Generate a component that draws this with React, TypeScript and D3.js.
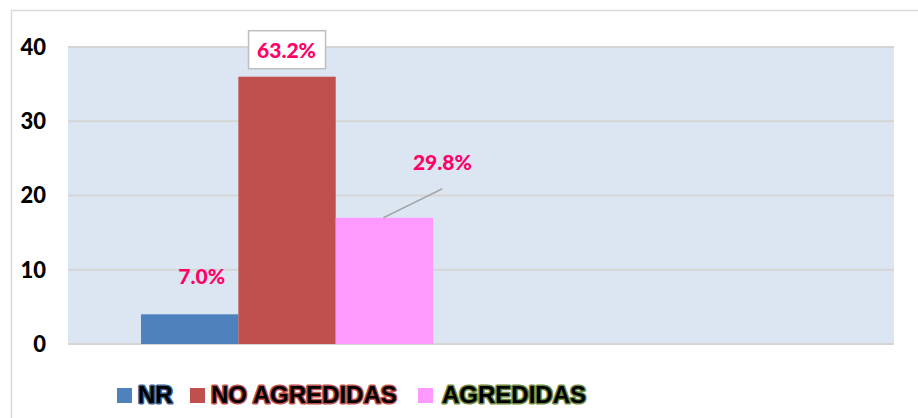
import React from "react";
import * as d3 from "d3";

const categories = ["Total"];
const seriesNames = ["NR", "NO AGREDIDAS", "AGREDIDAS"];
const seriesValues = [4, 36, 17];
const percentLabels = ["7.0%", "63.2%", "29.8%"];
const yTicks = [0, 10, 20, 30, 40];
const seriesColors = ["#4F81BD", "#C0504D", "#FF99FF"];
const legendStroke = ["#3B5F8F", "#C0504D", "#6E8B3D"];

const W = 918;
const H = 418;
const plot = { left: 68, right: 894, top: 47, bottom: 344 };

export default function App() {
  const y = d3.scaleLinear().domain([0, 40]).range([plot.bottom, plot.top]);
  const x0 = d3
    .scaleBand<string>()
    .domain(categories)
    .range([plot.left, plot.right])
    .paddingInner(0)
    .paddingOuter(0.914)
    .align(0.1367);
  const x1 = d3
    .scaleBand<string>()
    .domain(seriesNames)
    .range([0, x0.bandwidth()])
    .padding(0);

  const cat = categories[0];
  const bx = (i: number) => (x0(cat) ?? 0) + (x1(seriesNames[i]) ?? 0);
  const bw = x1.bandwidth();

  const labelFont = "Lato, 'Open Sans', sans-serif";
  const pink = "#FF0066";

  const legendItems = [
    { sq: 117, tx: 138 },
    { sq: 190, tx: 211 },
    { sq: 418, tx: 442 },
  ];

  return (
    <svg
      width={W}
      height={H}
      style={{ position: "absolute", left: 0, top: 0, background: "#fff" }}
    >
      <path
        d={`M11.5,${H + 2} L11.5,10.5 L${W + 2},10.5`}
        fill="none"
        stroke="#D9D9D9"
        strokeWidth={1.5}
      />
      <rect
        x={plot.left}
        y={plot.top}
        width={plot.right - plot.left}
        height={plot.bottom - plot.top}
        fill="#DCE6F2"
      />
      {yTicks.map((t) => (
        <g key={t}>
          <line
            x1={plot.left}
            x2={plot.right}
            y1={y(t)}
            y2={y(t)}
            stroke="#D5D5D5"
            strokeWidth={2}
          />
          <text
            x={46}
            y={y(t)}
            dy="0.36em"
            textAnchor="end"
            fontFamily={labelFont}
            fontWeight={900}
            fontSize={22}
            fill="#000"
          >
            {t}
          </text>
        </g>
      ))}
      {seriesValues.map((v, i) => (
        <rect
          key={i}
          x={bx(i)}
          y={y(v)}
          width={bw}
          height={y(0) - y(v)}
          fill={seriesColors[i]}
        />
      ))}
      <text
        x={bx(0) + bw / 2 + 12}
        y={y(seriesValues[0]) - 30}
        textAnchor="middle"
        fontFamily={labelFont}
        fontWeight={900}
        fontSize={21}
        fill={pink}
      >
        {percentLabels[0]}
      </text>
      <rect
        x={bx(1) + bw / 2 - 38.5}
        y={y(seriesValues[1]) - 46}
        width={77}
        height={38}
        fill="#fff"
        stroke="#BFBFBF"
        strokeWidth={1.5}
      />
      <text
        x={bx(1) + bw / 2 - 0.5}
        y={y(seriesValues[1]) - 19}
        textAnchor="middle"
        fontFamily={labelFont}
        fontWeight={900}
        fontSize={21}
        fill={pink}
      >
        {percentLabels[1]}
      </text>
      <line
        x1={bx(2) + bw / 2 - 1}
        y1={y(seriesValues[2])}
        x2={bx(2) + bw / 2 + 58}
        y2={y(seriesValues[2]) - 29}
        stroke="#A6A6A6"
        strokeWidth={1.5}
      />
      <text
        x={bx(2) + bw / 2 + 58}
        y={y(seriesValues[2]) - 48}
        textAnchor="middle"
        fontFamily={labelFont}
        fontWeight={900}
        fontSize={21}
        fill={pink}
      >
        {percentLabels[2]}
      </text>
      {seriesNames.map((name, i) => (
        <g key={name}>
          <rect
            x={legendItems[i].sq}
            y={388}
            width={15}
            height={15}
            fill={seriesColors[i]}
          />
          <text
            x={legendItems[i].tx}
            y={403}
            fontFamily="'Liberation Sans', Arial, sans-serif"
            fontWeight={700}
            fontSize={24}
            fill="#000"
            stroke={legendStroke[i]}
            strokeWidth={3}
            paintOrder="stroke"
            strokeLinejoin="round"
          >
            {name}
          </text>
        </g>
      ))}
    </svg>
  );
}
